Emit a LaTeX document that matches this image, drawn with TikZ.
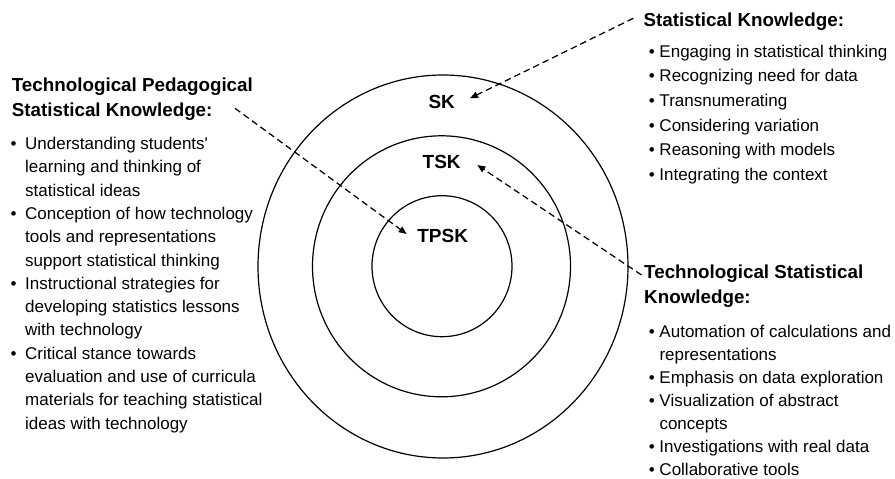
\documentclass[tikz,border=0pt]{standalone}
\usepackage{fontspec}
\setmainfont{Liberation Sans}
\usetikzlibrary{arrows.meta}

% bullet hanging to the left of the item text; #1 = gap after the dot
\newcommand\blt[1]{\leavevmode\llap{\textbullet\hspace{#1}}}

\begin{document}
\begin{tikzpicture}[x=1pt,y=-1pt,
  ring/.style={line width=1.2pt},
  pointer/.style={dash pattern=on 6.5pt off 4pt, line width=1.25pt,
                  -{Triangle[length=8pt,width=6.5pt]}},
  level/.style={font=\fontsize{19}{22}\selectfont\bfseries, inner sep=0pt},
  block/.style={anchor=base west, inner sep=0pt},
]
\useasboundingbox (0,0) rectangle (895,479);

% nested knowledge domains
\draw[ring] (443,266.5) ellipse [x radius=185, y radius=191.5];
\draw[ring] (441.5,266.3) ellipse [x radius=129, y radius=130.5];
\draw[ring] (442,266.2) ellipse [x radius=70, y radius=70.5];

\node[level] (sk)   at (441.7,101.7) {SK};
\node[level] (tsk)  at (441.7,162.2) {TSK};
\node[level] (tpsk) at (442.7,235.8) {TPSK};

% Technological Pedagogical Statistical Knowledge
\node[block] (tpskhead) at (11.7,91.7) {\parbox[t]{260pt}{\fontsize{18.8}{25}\selectfont\bfseries
  Technological Pedagogical\\Statistical Knowledge:}};
\node[block] (tpsklist) at (25,149.5) {\parbox[t]{280pt}{\fontsize{17}{23.3}\selectfont
  \blt{8.7pt}Understanding students\textquotesingle\\
  learning and thinking of\\
  statistical ideas\\
  \blt{8.7pt}Conception of how technology\\
  tools and representations\\
  support statistical thinking\\
  \blt{8.7pt}Instructional strategies for\\
  developing statistics lessons\\
  with technology\\
  \blt{8.7pt}Critical stance towards\\
  evaluation and use of curricula\\
  materials for teaching statistical\\
  ideas with technology}};

% Statistical Knowledge
\node[block] (skhead) at (643.3,26.7) {\parbox[t]{250pt}{\fontsize{18.8}{25}\selectfont\bfseries
  Statistical Knowledge:}};
\node[block] (sklist) at (659.3,57.3) {\parbox[t]{240pt}{\fontsize{17}{24.6}\selectfont
  \blt{4.6pt}Engaging in statistical thinking\\
  \blt{4.6pt}Recognizing need for data\\
  \blt{4.6pt}Transnumerating\\
  \blt{4.6pt}Considering variation\\
  \blt{4.6pt}Reasoning with models\\
  \blt{4.6pt}Integrating the context}};

% Technological Statistical Knowledge
\node[block] (tskhead) at (644,278.4) {\parbox[t]{250pt}{\fontsize{18.8}{25}\selectfont\bfseries
  Technological Statistical\\Knowledge:}};
\node[block] (tsklist) at (659.3,337.4) {\parbox[t]{240pt}{\fontsize{17}{23.05}\selectfont
  \blt{4.6pt}Automation of calculations and\\
  representations\\
  \blt{4.6pt}Emphasis on data exploration\\
  \blt{4.6pt}Visualization of abstract\\
  concepts\\
  \blt{4.6pt}Investigations with real data\\
  \blt{4.6pt}Collaborative tools}};

% dashed pointers from each heading to its ring label
\coordinate (skfrom)   at (633.3,18.3);
\coordinate (skto)     at (470,98.3);
\coordinate (tpskfrom) at (235,108.3);
\coordinate (tpskto)   at (406.7,234);
\coordinate (tskfrom)  at (641.5,275);
\coordinate (tskto)    at (477.3,165);

\draw[pointer] (skfrom) -- (skto);
\draw[pointer] (tpskfrom) -- (tpskto);
\draw[pointer] (tskfrom) -- (tskto);
\end{tikzpicture}
\end{document}
